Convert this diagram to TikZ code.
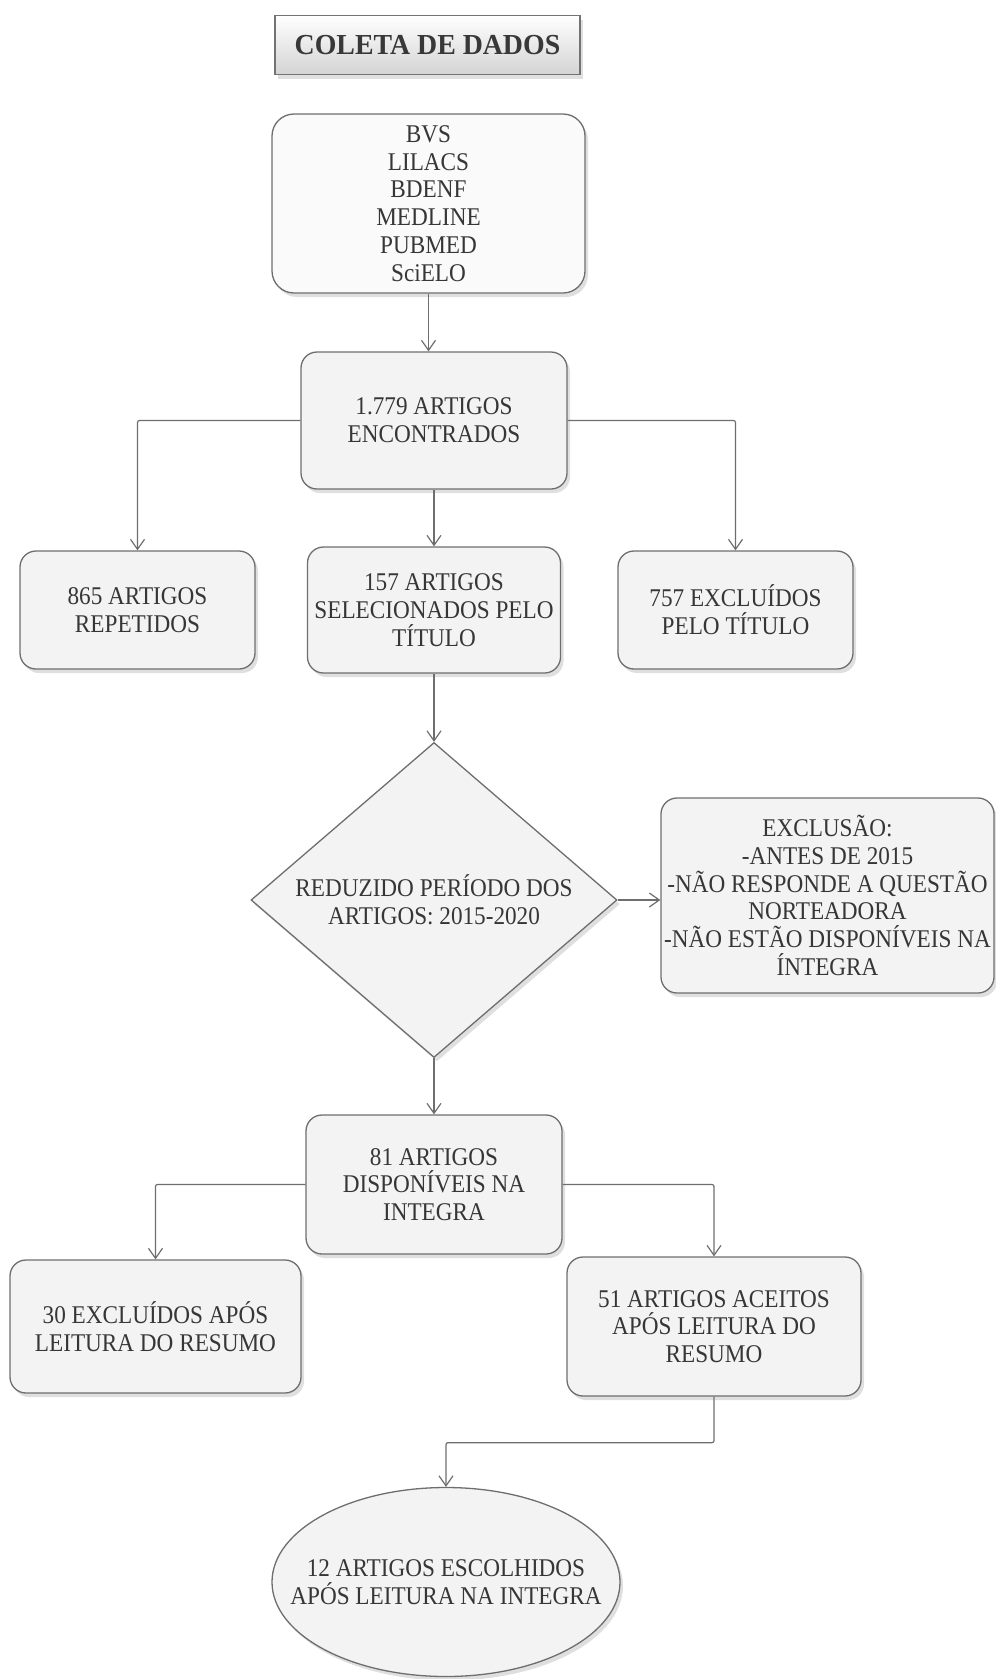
\documentclass[tikz,border=0pt]{standalone}
\usepackage{fontspec}
\setmainfont[FakeStretch=0.91]{Liberation Serif}
\newfontfamily\titulofont[FakeStretch=0.96]{Liberation Serif}
\usepackage{xcolor}
\usetikzlibrary{arrows.meta,shapes.geometric,shadows}
\definecolor{linha}{HTML}{6E6E6E}
\definecolor{fundo}{HTML}{F3F3F3}
\definecolor{texto}{HTML}{363636}

\begin{document}
\begin{tikzpicture}[x=1pt, y=-1pt,
            every node/.style={
            text=texto, inner sep=0pt, align=center, font=\fontsize{25.5}{27.8}\selectfont}
        ]
        \tikzstyle {sombra} = [drop shadow={shadow xshift=3pt, shadow yshift=-4pt, opacity=0.25}]
        \tikzstyle {caixa} = [rectangle, rounded corners=16pt, draw=linha, line width=1.3pt, fill=fundo, sombra]
        \tikzstyle {titulo} = [rectangle, draw=black!55, line width=1.3pt, top color=white, bottom color=black!17, sombra, text=black!78, font=\titulofont\bfseries\fontsize{29}{32}\selectfont]
        \tikzstyle {losango} = [diamond, aspect=1.16, draw=linha, line width=1.3pt, fill=fundo, sombra, minimum width=366pt, minimum height=315pt]
        \tikzstyle {elipse} = [ellipse, draw=linha, line width=1.3pt, fill=fundo, sombra, inner xsep=-40pt, inner ysep=-20pt, minimum width=348pt, minimum height=189pt]
        \tikzstyle {seta} = [draw=linha, line width=1.2pt, rounded corners=2pt, -{Straight Barb[length=10pt,width=14pt]}]

        \useasboundingbox (0,0) rectangle (996,1679);

        \node [titulo, minimum width=305pt, minimum height=59pt] (coleta) at (427.5,45) {COLETA DE DADOS};
        \node [caixa, fill=fundo!40, rounded corners=22pt, minimum width=313pt, minimum height=179pt] (bases) at (428.5,203.5) {BVS\\LILACS\\BDENF\\MEDLINE\\PUBMED\\SciELO};
        \node [caixa, minimum width=266pt, minimum height=137pt] (encontrados) at (434,420.5) {1.779 ARTIGOS\\ENCONTRADOS};
        \node [caixa, minimum width=235pt, minimum height=118pt] (repetidos) at (137.5,610) {865 ARTIGOS\\REPETIDOS};
        \node [caixa, minimum width=253pt, minimum height=126pt] (selecionados) at (434,610) {157 ARTIGOS\\SELECIONADOS PELO\\TÍTULO};
        \node [caixa, minimum width=235pt, minimum height=118pt] (excl_titulo) at (735.5,610) {757 EXCLUÍDOS\\PELO TÍTULO};
        \node [losango] (periodo) at (434,900) {REDUZIDO PERÍODO DOS\\ARTIGOS: 2015-2020};
        \node [caixa, minimum width=333pt, minimum height=195pt] (exclusao) at (827.5,895.5) {EXCLUSÃO:\\-ANTES DE 2015\\-NÃO RESPONDE A QUESTÃO\\NORTEADORA\\-NÃO ESTÃO DISPONÍVEIS NA\\ÍNTEGRA};
        \node [caixa, minimum width=256pt, minimum height=139pt] (disponiveis) at (434,1184.5) {81 ARTIGOS\\DISPONÍVEIS NA\\INTEGRA};
        \node [caixa, minimum width=291pt, minimum height=133pt] (excl_resumo) at (155.5,1326.5) {30 EXCLUÍDOS APÓS\\LEITURA DO RESUMO};
        \node [caixa, minimum width=294pt, minimum height=139pt] (aceitos) at (714,1326.5) {51 ARTIGOS ACEITOS\\APÓS LEITURA DO\\RESUMO};
        \node [elipse] (escolhidos) at (446,1582) {12 ARTIGOS ESCOLHIDOS\\APÓS LEITURA NA INTEGRA};

        \draw [seta] (bases.south) -- (bases.south |- encontrados.north);
        \draw [seta] (encontrados.west) -| (repetidos.north);
        \draw [seta] (encontrados.south) -- (selecionados.north);
        \draw [seta] (encontrados.east) -| (excl_titulo.north);
        \draw [seta] (selecionados.south) -- (periodo.north);
        \draw [seta] (periodo.east) -- (periodo.east -| exclusao.west);
        \draw [seta] (periodo.south) -- (disponiveis.north);
        \draw [seta] (disponiveis.west) -| (excl_resumo.north);
        \draw [seta] (disponiveis.east) -| (aceitos.north);
        \draw [seta] (aceitos.south) -- ++(0,46) -| (escolhidos.north);

        \end{tikzpicture}
\end{document}
